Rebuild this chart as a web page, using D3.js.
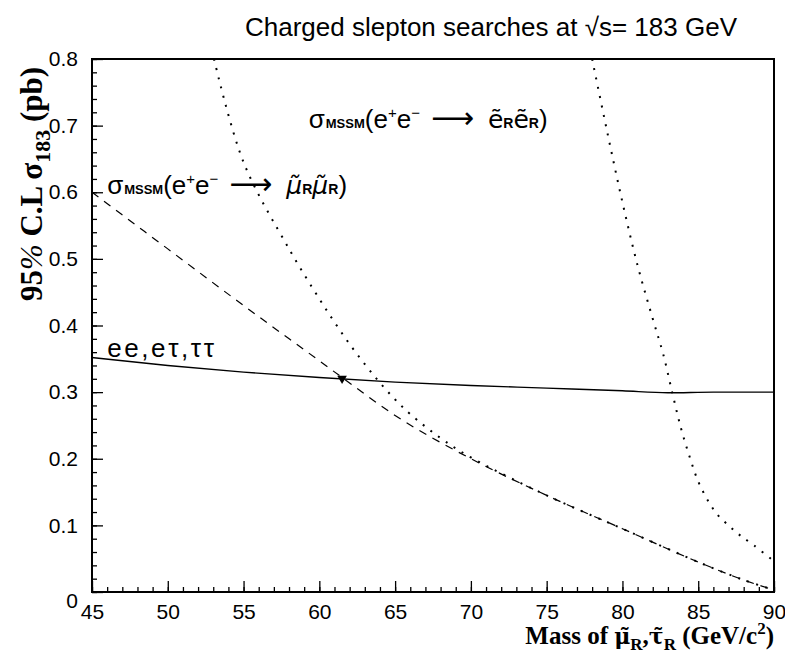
<!DOCTYPE html>
<html>
<head>
<meta charset="utf-8">
<script src="https://cdn.jsdelivr.net/npm/d3@7"></script>
<style>
  body { margin: 0; background: #fff; }
  svg { display: block; }
</style>
</head>
<body>
<div id="chart"></div>
<script>
// limit curve for ee, e-tau, tau-tau
const limitMass = [45, 50, 55, 60, 65, 70, 75, 80, 83, 86, 90];
const limitXsec = [0.352, 0.340, 0.330, 0.322, 0.315, 0.310, 0.306, 0.302, 0.299, 0.300, 0.300];

// MSSM smuon cross section (dashed)
const smuMass = [45, 50, 55, 60, 61.5, 65, 70, 75, 80, 85, 88, 90];
const smuXsec = [0.600, 0.515, 0.430, 0.347, 0.322, 0.265, 0.200, 0.145, 0.095, 0.045, 0.018, 0.003];

// dotted curve on the left, joins the dashed one above 70 GeV
const dotLoMass = [53.05, 55, 58, 60, 61, 62, 63, 64, 65, 66, 68, 70, 75, 80, 85, 88, 90];
const dotLoXsec = [0.80, 0.645, 0.515, 0.44, 0.405, 0.372, 0.342, 0.314, 0.289, 0.267, 0.231, 0.202, 0.145, 0.095, 0.045, 0.018, 0.003];

// MSSM selectron cross section (dotted, right)
const selMass = [78.0, 79, 80, 81, 82, 82.7, 83.3, 83.86, 84.46, 85, 85.67, 86.27, 87, 87.76, 88.68, 90];
const selXsec = [0.80, 0.69, 0.585, 0.49, 0.41, 0.356, 0.298, 0.246, 0.201, 0.166, 0.136, 0.116, 0.100, 0.085, 0.070, 0.046];

// excluded point marker
const markMass = [61.5];
const markXsec = [0.322];

const xTicks = [45, 50, 55, 60, 65, 70, 75, 80, 85, 90];
const yTicks = [0, 0.1, 0.2, 0.3, 0.4, 0.5, 0.6, 0.7, 0.8];

const width = 785, height = 658;
const margin = { top: 59, right: 11, bottom: 66, left: 92 };
const w = width - margin.left - margin.right;
const h = height - margin.top - margin.bottom;
const sans = "'Liberation Sans', Arial, sans-serif";
const serif = "'Liberation Serif', 'Times New Roman', serif";

const svg = d3.select("#chart").append("svg")
  .attr("width", width)
  .attr("height", height);

const x = d3.scaleLinear().domain([45, 90]).range([0, w]);
const y = d3.scaleLinear().domain([0, 0.8]).range([h, 0]);

const g = svg.append("g").attr("transform", `translate(${margin.left},${margin.top})`);

g.append("clipPath").attr("id", "clip")
  .append("rect").attr("width", w).attr("height", h);

// minor ticks
g.append("g")
  .attr("transform", `translate(0,${h})`)
  .call(d3.axisBottom(x).tickValues(d3.range(45, 91, 1)).tickSize(-5).tickFormat(""))
  .call(a => a.select(".domain").remove());
g.append("g")
  .call(d3.axisLeft(y).tickValues(d3.range(0, 0.81, 0.02)).tickSize(-5).tickFormat(""))
  .call(a => a.select(".domain").remove());

// major ticks + labels
const xAxis = g.append("g")
  .attr("transform", `translate(0,${h})`)
  .call(d3.axisBottom(x).tickValues(xTicks).tickSize(-11).tickPadding(12).tickFormat(d3.format("d")));
xAxis.select(".domain").remove();
xAxis.selectAll("text").attr("font-family", sans).attr("font-size", 21).attr("fill", "#000");

const yAxis = g.append("g")
  .call(d3.axisLeft(y).tickValues(yTicks).tickSize(-11).tickPadding(14)
    .tickFormat(d => d === 0 ? "0" : d3.format(".1f")(d)));
yAxis.select(".domain").remove();
yAxis.selectAll("text").attr("font-family", sans).attr("font-size", 21).attr("fill", "#000")
  .attr("dy", d => d === 0 ? "0.75em" : "0.32em");

g.selectAll(".tick line").attr("stroke", "#000").attr("stroke-width", 1.3);

// frame
g.append("rect")
  .attr("width", w).attr("height", h)
  .attr("fill", "none").attr("stroke", "#000").attr("stroke-width", 2);

const line = d3.line()
  .x(d => x(d[0]))
  .y(d => y(d[1]))
  .curve(d3.curveMonotoneX);

const smooth = d3.line()
  .x(d => x(d[0]))
  .y(d => y(d[1]))
  .curve(d3.curveCatmullRom.alpha(0.5));

const plot = g.append("g").attr("clip-path", "url(#clip)");

plot.append("path")
  .datum(d3.zip(limitMass, limitXsec))
  .attr("d", line)
  .attr("fill", "none").attr("stroke", "#000").attr("stroke-width", 1.4);

plot.append("path")
  .datum(d3.zip(smuMass, smuXsec))
  .attr("d", line)
  .attr("fill", "none").attr("stroke", "#000").attr("stroke-width", 1.2)
  .attr("stroke-dasharray", "8,7");

plot.append("path")
  .datum(d3.zip(dotLoMass, dotLoXsec))
  .attr("d", smooth)
  .attr("fill", "none").attr("stroke", "#000").attr("stroke-width", 2)
  .attr("stroke-dasharray", "2,7.5");

plot.append("path")
  .datum(d3.zip(selMass, selXsec))
  .attr("d", smooth)
  .attr("fill", "none").attr("stroke", "#000").attr("stroke-width", 2)
  .attr("stroke-dasharray", "2,7.5");

g.selectAll(".mark")
  .data(d3.zip(markMass, markXsec))
  .join("path")
  .attr("class", "mark")
  .attr("d", d3.symbol(d3.symbolTriangle, 40))
  .attr("transform", d => `translate(${x(d[0])},${y(d[1]) + 1}) rotate(180)`)
  .attr("fill", "#000");

// curve labels
function sigmaLabel(px, py, tilded) {
  const t = g.append("text")
    .attr("x", px).attr("y", py)
    .attr("font-family", sans).attr("font-size", 26).attr("fill", "#000");
  t.append("tspan").text("σ");
  t.append("tspan").text("MSSM").attr("font-size", 13).attr("font-weight", "bold").attr("dx", 1);
  t.append("tspan").text("(e");
  t.append("tspan").text("+").attr("font-size", 15).attr("dy", -10);
  t.append("tspan").text("e").attr("dy", 10);
  t.append("tspan").text("−").attr("font-size", 15).attr("dy", -10);
  t.append("tspan").text("⟶").attr("font-family", "'DejaVu Sans', sans-serif")
    .attr("font-size", 30).attr("dy", 10).attr("dx", 11);
  for (let k = 0; k < 2; k++) {
    t.append("tspan").text(tilded).attr("font-family", "'DejaVu Sans', sans-serif")
      .attr("font-size", 25).attr("dx", k === 0 ? 14 : 0)
      .attr("font-style", tilded.startsWith("μ") ? "italic" : null);
    t.append("tspan").text("R").attr("font-size", 14).attr("font-weight", "bold");
  }
  t.append("tspan").text(")");
  return t;
}
sigmaLabel(x(59.3), y(0.697), "ẽ");
sigmaLabel(x(46), y(0.598), "μ̃");

g.append("text")
  .attr("x", x(46)).attr("y", y(0.352))
  .attr("font-family", sans).attr("font-size", 26).attr("fill", "#000")
  .attr("letter-spacing", 2.6)
  .text("ee,eτ,ττ");

// title
svg.append("text")
  .attr("x", 491).attr("y", 36)
  .attr("text-anchor", "middle")
  .attr("font-family", sans).attr("font-size", 26).attr("fill", "#000")
  .text("Charged slepton searches at √s= 183 GeV");

// y axis title
const yt = svg.append("text")
  .attr("transform", `translate(42,184) rotate(-90)`)
  .attr("text-anchor", "middle")
  .attr("font-family", serif).attr("font-size", 31).attr("font-weight", "bold").attr("fill", "#000");
yt.append("tspan").text("95");
yt.append("tspan").text("%").attr("font-style", "italic").attr("font-weight", "normal");
yt.append("tspan").text(" C.L σ");
yt.append("tspan").text("183").attr("font-size", 22).attr("dy", 8);
yt.append("tspan").text(" (pb)").attr("dy", -8);

// x axis title
const xt = svg.append("text")
  .attr("x", margin.left + w).attr("y", 644)
  .attr("text-anchor", "end")
  .attr("font-family", serif).attr("font-size", 25).attr("font-weight", "bold").attr("fill", "#000");
xt.append("tspan").text("Mass of ");
xt.append("tspan").text("μ̃").attr("font-family", "'DejaVu Serif', serif").attr("font-size", 22);
xt.append("tspan").text("R").attr("font-size", 17).attr("dy", 6);
xt.append("tspan").text(",").attr("dy", -6);
xt.append("tspan").text("τ̃").attr("font-family", "'DejaVu Serif', serif").attr("font-size", 22);
xt.append("tspan").text("R").attr("font-size", 17).attr("dy", 6);
xt.append("tspan").text(" (GeV/c").attr("dy", -6);
xt.append("tspan").text("2").attr("font-size", 17).attr("dy", -10);
xt.append("tspan").text(")").attr("dy", 10);
</script>
</body>
</html>
